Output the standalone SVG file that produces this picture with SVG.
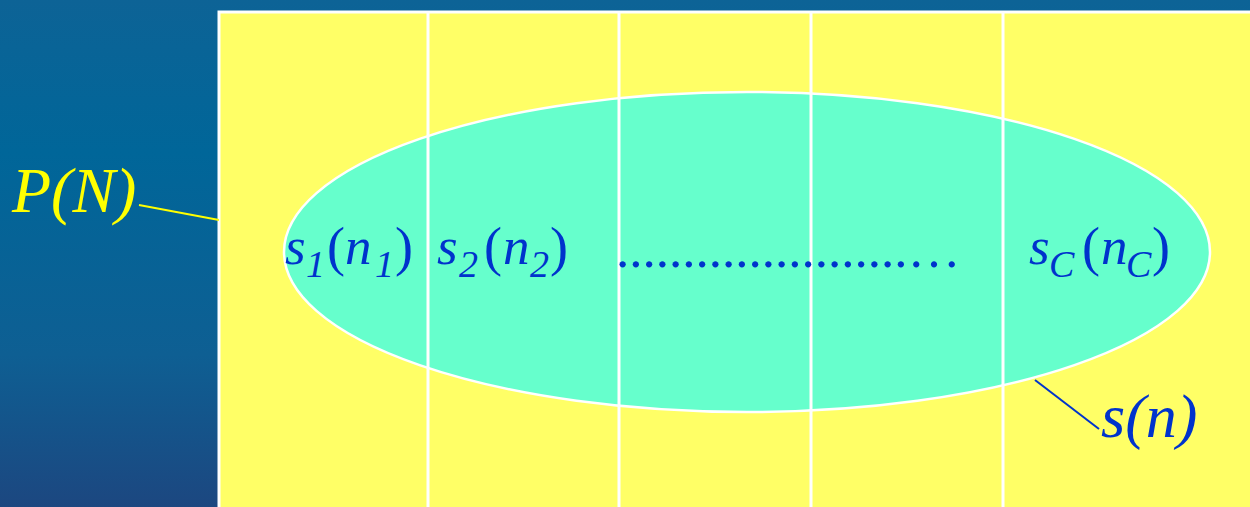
<svg xmlns="http://www.w3.org/2000/svg" width="1250" height="507" viewBox="0 0 1250 507">
<defs>
<linearGradient id="bg" x1="0" y1="0" x2="0" y2="1">
<stop offset="0" stop-color="#0d6396"/>
<stop offset="0.3" stop-color="#006699"/>
<stop offset="0.7" stop-color="#0e5f93"/>
<stop offset="1" stop-color="#1c4780"/>
</linearGradient>
<style>
.lbl{font-family:"Liberation Serif","Times New Roman",serif;font-style:italic;fill:#0033cc;font-size:53px}
.sub{font-size:38px}
.par{font-style:normal;font-size:54px}
.div{stroke:#ffffff;stroke-width:3}
</style>
</defs>
<rect x="0" y="0" width="1250" height="507" fill="url(#bg)"/>
<g id="population">
<rect x="219" y="12" width="1040" height="505" fill="#ffff66" stroke="#ffffff" stroke-width="3"/>
</g>
<g id="sample">
<ellipse cx="747" cy="252" rx="463" ry="160" fill="#66ffcc" stroke="#ffffff" stroke-width="2.5"/>
</g>
<g id="strata">
<line class="div" x1="428" y1="12" x2="428" y2="507"/>
<line class="div" x1="619" y1="12" x2="619" y2="507"/>
<line class="div" x1="811" y1="12" x2="811" y2="507"/>
<line class="div" x1="1003" y1="12" x2="1003" y2="507"/>
</g>
<g id="connectors">
<line x1="139" y1="205" x2="219" y2="220" stroke="#ffff00" stroke-width="2"/>
<line x1="1035" y1="380" x2="1099" y2="429" stroke="#0033cc" stroke-width="2"/>
</g>
<g id="label-PN">
<text x="12" y="212" font-family="'Liberation Serif', 'Times New Roman', serif" font-style="italic" font-size="64" fill="#ffff00">P(N)</text>
</g>
<g id="label-s1">
<text class="lbl" y="264"><tspan x="285">s</tspan><tspan class="sub" x="306" y="277">1</tspan><tspan class="par" x="327" y="265">(</tspan><tspan x="345" y="264">n</tspan><tspan class="sub" x="375" y="277">1</tspan><tspan class="par" x="395" y="265">)</tspan></text>
</g>
<g id="label-s2">
<text class="lbl" y="264"><tspan x="437">s</tspan><tspan class="sub" x="459" y="277">2</tspan><tspan class="par" x="484" y="265">(</tspan><tspan x="503" y="264">n</tspan><tspan class="sub" x="530" y="277">2</tspan><tspan class="par" x="550" y="265">)</tspan></text>
</g>
<g id="label-dots">
<text class="lbl" x="616" y="267" style="font-style:normal;font-size:53px">......................…</text>
</g>
<g id="label-sC">
<text class="lbl" y="264"><tspan x="1029">s</tspan><tspan class="sub" x="1049" y="277">C</tspan><tspan class="par" x="1082" y="265">(</tspan><tspan x="1101" y="264">n</tspan><tspan class="sub" x="1126" y="277">C</tspan><tspan class="par" x="1152" y="265">)</tspan></text>
</g>
<g id="label-sn">
<text class="lbl" x="1101" y="437" style="font-size:62px">s(n)</text>
</g>
</svg>
